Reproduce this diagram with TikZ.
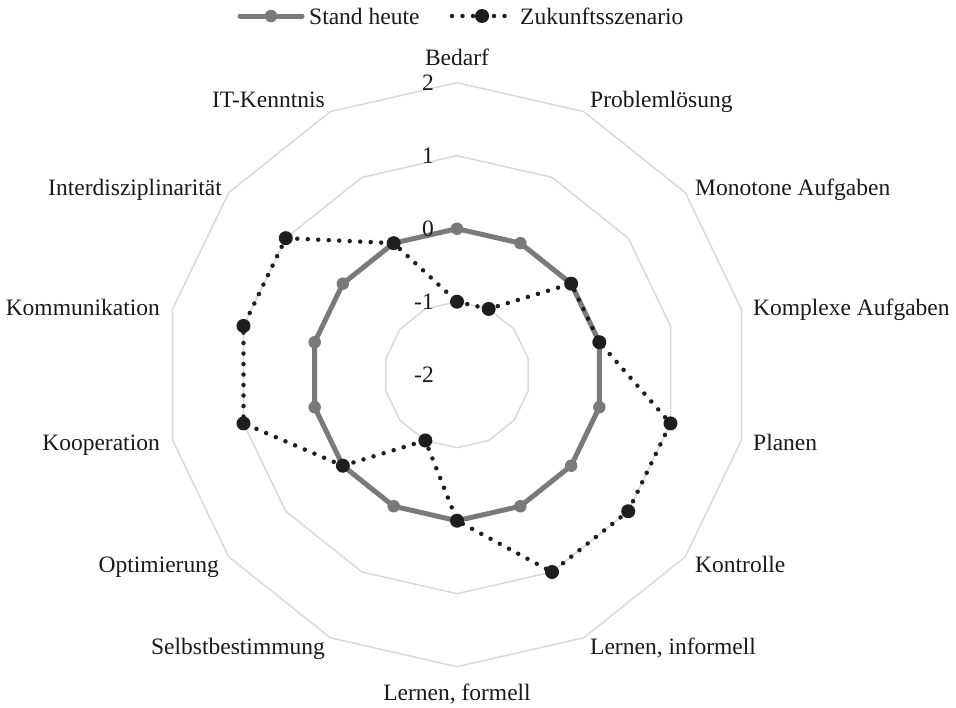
\documentclass[tikz,border=0pt]{standalone}
\usepackage{fontspec}
\setmainfont{Liberation Serif}
\definecolor{gridgray}{HTML}{D9D9D9}
\definecolor{seriesgray}{HTML}{7A7A7A}
\definecolor{seriesblack}{HTML}{1E1E1E}
\definecolor{textdark}{HTML}{1A1A1A}
\begin{document}
\begin{tikzpicture}[x=1pt,y=-1pt,
  lbl/.style={inner sep=0pt, font=\fontsize{23.5}{28}\selectfont, text=textdark},
  ring/.style={draw=gridgray, line width=1.5pt, line join=miter},
  heuteline/.style={draw=seriesgray, line width=5pt, line join=round, line cap=round},
  zukunftline/.style={draw=seriesblack, line width=4.5pt, line cap=round, dash pattern=on 0pt off 10.5pt},
  hmark/.style={circle, fill=seriesgray, minimum size=12.5pt, inner sep=0pt},
  zmark/.style={circle, fill=seriesblack, minimum size=14pt, inner sep=0pt},
]
\useasboundingbox (0,0) rectangle (956,707);
\fill[white] (0,0) rectangle (956,707);

% radar chart, 14 axes, scale -2 (centre) .. 2 (outer ring), 73 units per step
\begin{scope}[shift={(457,374.7)}]
  % grid rings for -1, 0, 1, 2
  \foreach \r in {73,146,219,292} {
    \draw[ring] (-90:\r) \foreach \i in {1,...,13}{ -- ({-90+\i*360/14}:\r)} -- cycle;
  }
  % series points
  \foreach \i in {0,...,13}
    \coordinate (h\i) at ({-90+\i*360/14}:146);
  \foreach \v [count=\i from 0] in {-1,-1,0,0,1,1,1,0,-1,0,1,1,1,0}
    \coordinate (z\i) at ({-90+\i*360/14}:{(\v+2)*73});
\end{scope}

% Stand heute
\draw[heuteline] (h0) \foreach \i in {1,...,13}{ -- (h\i)} -- cycle;
\foreach \i in {0,...,13} \node[hmark] (hm\i) at (h\i) {};

% Zukunftsszenario
\draw[zukunftline] (z0) \foreach \i in {1,...,13}{ -- (z\i)} -- cycle;
\foreach \i in {0,...,13} \node[zmark] (zm\i) at (z\i) {};

% scale labels
\node[lbl, anchor=base east] (t2)  at (434,90.5)  {2};
\node[lbl, anchor=base east] (t1)  at (434,163.5) {1};
\node[lbl, anchor=base east] (t0)  at (434,236.5) {0};
\node[lbl, anchor=base east] (tm1) at (434,309.5) {-1};
\node[lbl, anchor=base east] (tm2) at (434,382.5) {-2};

% axis labels
\node[lbl, anchor=base]      (a0)  at (457,65)  {Bedarf};
\node[lbl, anchor=base west] (a1)  at (590,107) {Problemlösung};
\node[lbl, anchor=base west] (a2)  at (695,195) {Monotone Aufgaben};
\node[lbl, anchor=base west] (a3)  at (753,315) {Komplexe Aufgaben};
\node[lbl, anchor=base west] (a4)  at (753,450) {Planen};
\node[lbl, anchor=base west] (a5)  at (695,572) {Kontrolle};
\node[lbl, anchor=base west] (a6)  at (590,654) {Lernen, informell};
\node[lbl, anchor=base]      (a7)  at (457,700) {Lernen, formell};
\node[lbl, anchor=base east] (a8)  at (325,654) {Selbstbestimmung};
\node[lbl, anchor=base east] (a9)  at (219,572) {Optimierung};
\node[lbl, anchor=base east] (a10) at (160,450) {Kooperation};
\node[lbl, anchor=base east] (a11) at (160,315) {Kommunikation};
\node[lbl, anchor=base east] (a12) at (222,195) {Interdisziplinarität};
\node[lbl, anchor=base east] (a13) at (325,107) {IT-Kenntnis};

% legend
\coordinate (lha) at (240,16);
\coordinate (lhb) at (302,16);
\draw[heuteline] (lha) -- (lhb);
\node[hmark] (lhm) at (271,16) {};
\node[lbl, anchor=base west] (lht) at (309,24) {Stand heute};

\coordinate (lza) at (452,16);
\coordinate (lzb) at (512,16);
\draw[zukunftline] (lza) -- (lzb);
\node[zmark] (lzm) at (482,16) {};
\node[lbl, anchor=base west] (lzt) at (520,24) {Zukunftsszenario};
\end{tikzpicture}
\end{document}
